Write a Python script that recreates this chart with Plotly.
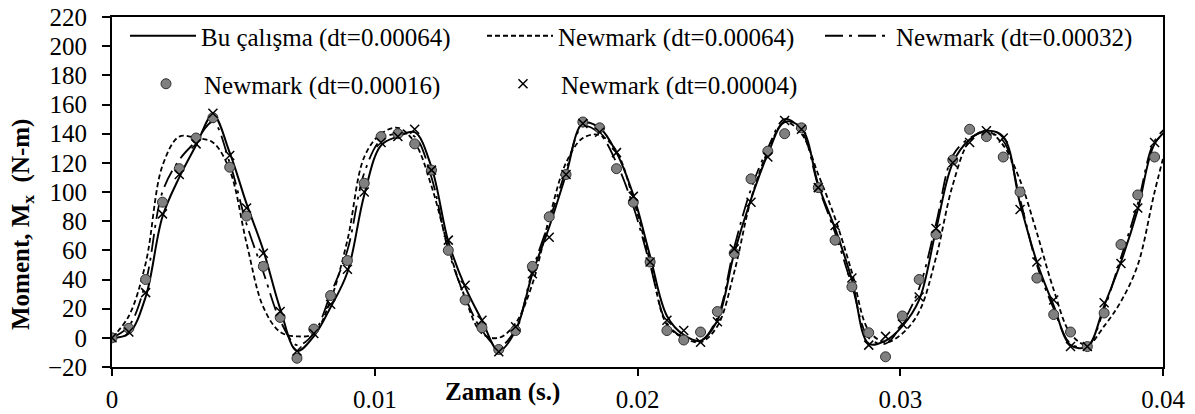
import plotly.graph_objects as go

# sample times (s), step 0.00064
time_s = [round(k * 0.00064, 5) for k in range(64)]

bu_calisma = [0, 3, 28, 83, 110, 132, 153, 127, 92, 60, 20, -9, 1, 21, 45, 98,
              132, 138, 141, 117, 66, 35, 12, -9, 5, 44, 76, 112, 147, 144, 127, 98,
              56, 15, 2, -2, 12, 58, 95, 126, 148, 144, 105, 75, 40, -4, -2, 8,
              26, 74, 120, 136, 142, 138, 92, 52, 22, -5, -6, 22, 52, 88, 133, 145]

newmark_064 = [0, 15, 51, 118, 138, 137, 134, 115, 65, 21, 4, 1, 3, 26, 67, 124,
               140, 144, 134, 104, 62, 27, 3, 0, 10, 37, 82, 120, 137, 139, 128, 95,
               52, 9, 0, -3, 8, 45, 95, 128, 148, 140, 112, 82, 45, 5, -3, 3,
               18, 55, 105, 135, 142, 132, 108, 72, 33, 3, -5, 8, 25, 50, 100, 145]

newmark_032 = [0, 8, 38, 100, 122, 135, 148, 120, 78, 45, 12, -5, 3, 30, 60, 113,
               136, 140, 138, 110, 60, 28, 5, -6, 6, 46, 80, 115, 145, 140, 120, 90,
               50, 10, 0, -2, 14, 62, 102, 130, 150, 142, 104, 72, 36, 0, -4, 10,
               34, 78, 125, 137, 141, 135, 95, 50, 20, -4, -6, 20, 55, 92, 135, 147]

newmark_016 = [0, 6.5, 40, 93, 116, 137, 151, 117, 83.5, 49, 14, -14, 6, 29, 53, 106,
               138, 140, 133, 115, 60, 26, 7, -8, 5, 49, 83, 112, 148, 144, 116, 93,
               52, 5, -1.5, 4, 18, 58, 109, 128, 140, 144, 103, 67, 35, 3.5, -13, 15,
               40, 71, 122, 143, 138, 124, 100, 41, 16, 4, -6, 17, 64, 98, 124]

newmark_004 = [0, 4, 31, 85, 112, 133, 154, 125, 89, 58, 18, -9, 3, 23, 47, 100,
               134, 138, 143, 115, 67, 36, 12, -9.5, 7.6, 44, 69, 112, 147, 141, 127, 97,
               52, 12, 5, -3, 11, 61, 93, 124, 149, 143, 103, 77, 41, -5, 1, 9.5,
               28, 75, 120, 134, 142, 137, 88, 52, 26, -6, -6, 24, 51, 89, 134]

x_ticks = [0, 0.01, 0.02, 0.03, 0.04]
x_tick_text = ["0", "0.01", "0.02", "0.03", "0.04"]
y_ticks = list(range(-20, 221, 20))

FONT = "Liberation Serif"
W, H = 1195, 414
L, R, T, B = 112, 32, 17, 47
pw, ph = W - L - R, H - T - B

def px_x(p):
    return (p - L) / pw

def px_y(p):
    return (H - B - p) / ph

fig = go.Figure()

fig.add_trace(go.Scatter(
    x=time_s, y=bu_calisma, mode="lines", name="Bu çalışma (dt=0.00064)",
    line=dict(color="black", width=2, shape="spline", smoothing=1), legend="legend"))
fig.add_trace(go.Scatter(
    x=time_s, y=newmark_064, mode="lines", name="Newmark (dt=0.00064)",
    line=dict(color="black", width=1.8, dash="5px,3px", shape="spline", smoothing=1),
    legend="legend2"))
fig.add_trace(go.Scatter(
    x=time_s, y=newmark_032, mode="lines", name="Newmark (dt=0.00032)",
    line=dict(color="black", width=1.8, dash="18px,6px,3px,6px", shape="spline", smoothing=1),
    legend="legend3"))
fig.add_trace(go.Scatter(
    x=time_s[:len(newmark_016)], y=newmark_016, mode="markers", name="Newmark (dt=0.00016)",
    marker=dict(symbol="circle", size=10, color="#808080", line=dict(color="#303030", width=1)),
    legend="legend4"))
fig.add_trace(go.Scatter(
    x=time_s[:len(newmark_004)], y=newmark_004, mode="markers", name="Newmark (dt=0.00004)",
    marker=dict(symbol="x-thin", size=9, color="black", line=dict(color="black", width=1.5)),
    legend="legend5"))

leg_common = dict(orientation="h", bgcolor="rgba(0,0,0,0)", borderwidth=0,
                  font=dict(family=FONT, size=25, color="black"),
                  xanchor="left", yanchor="middle", itemwidth=66,
                  tracegroupgap=0)

fig.update_layout(
    width=W, height=H,
    margin=dict(l=L, r=R, t=T, b=B, pad=0, autoexpand=False),
    paper_bgcolor="white", plot_bgcolor="white",
    font=dict(family=FONT, size=25, color="black"),
    showlegend=True,
    legend=dict(x=px_x(125), y=px_y(36), **leg_common),
    legend2=dict(x=px_x(482), y=px_y(36), **leg_common),
    legend3=dict(x=px_x(820), y=px_y(36), **leg_common),
    legend4=dict(x=px_x(128), y=px_y(84), **leg_common),
    legend5=dict(x=px_x(485), y=px_y(84), **leg_common),
    xaxis=dict(range=[0, 0.04], tickvals=x_ticks, ticktext=x_tick_text,
               showline=True, linecolor="black", linewidth=2, mirror=True,
               ticks="outside", ticklen=7, tickwidth=1.5, tickcolor="black",
               showgrid=False, zeroline=False, automargin=False,
               tickfont=dict(family=FONT, size=25, color="black"),
               ticklabelstandoff=2),
    yaxis=dict(range=[-20, 220], tickvals=y_ticks,
               showline=True, linecolor="black", linewidth=2, mirror=True,
               ticks="outside", ticklen=8, tickwidth=1.5, tickcolor="black",
               showgrid=False, zeroline=False, automargin=False,
               tickfont=dict(family=FONT, size=25, color="black"),
               ticklabelstandoff=10),
    annotations=[
        dict(text="<b>Zaman (s.)</b>", x=0.01485, xref="x", y=px_y(392), yref="paper",
             xanchor="center", yanchor="middle", showarrow=False,
             font=dict(family=FONT, size=25, color="black")),
        dict(text="<b>Moment, M<sub>x</sub>  (N-m)</b>", x=px_x(22), xref="paper",
             y=px_y(225), yref="paper", textangle=-90,
             xanchor="center", yanchor="middle", showarrow=False,
             font=dict(family=FONT, size=25, color="black")),
    ],
)

fig.write_html("out.html")
